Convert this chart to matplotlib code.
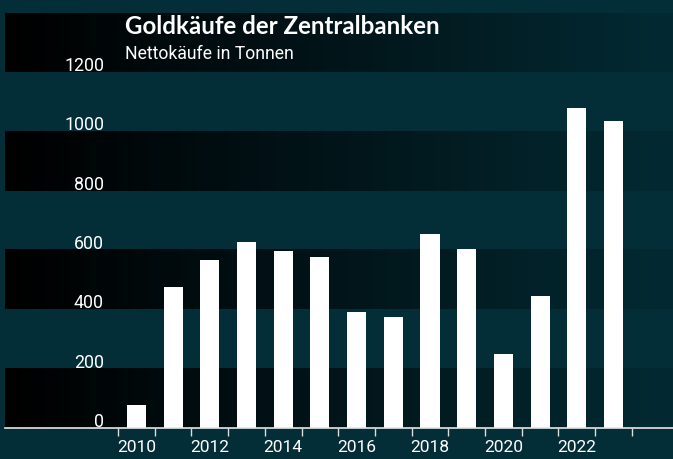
import matplotlib
matplotlib.use("Agg")
import matplotlib.pyplot as plt
import numpy as np
from matplotlib.colors import to_rgb
import matplotlib.transforms as mtransforms

years = [2010, 2011, 2012, 2013, 2014, 2015, 2016, 2017, 2018, 2019, 2020, 2021, 2022, 2023]
tonnes = [77, 476, 567, 627, 597, 577, 391, 374, 655, 604, 250, 445, 1080, 1036]
year_labels = ["2010", "2012", "2014", "2016", "2018", "2020", "2022"]
y_ticks = [0, 200, 400, 600, 800, 1000, 1200]
title = "Goldkäufe der Zentralbanken"
subtitle = "Nettokäufe in Tonnen"

TEAL = "#032d37"
DARK_END = "#032a33"
W, H = 673, 459
fig = plt.figure(figsize=(W / 100, H / 100), dpi=100)
fig.patch.set_facecolor(TEAL)

ax = fig.add_axes([5 / W, (H - 428) / H, (W - 5) / W, (428 - 13) / H])
ax.set_facecolor(TEAL)

x = np.arange(len(years))
xl, xr = -3.58, 14.62

# gradient dark bands
c0 = np.array(to_rgb("#000000"))
c1 = np.array(to_rgb(DARK_END))
t = np.linspace(0, 1, 256)[:, None]
grad = (c0 * (1 - t) + c1 * t)[None, :, :]
for y0 in [0, 400, 800, 1200]:
    ax.imshow(grad, extent=(xl, xr, y0, y0 + 200), aspect="auto", zorder=0, interpolation="bilinear")
ax.set_xlim(xl, xr)
ax.set_ylim(0, 1400)

ax.bar(x, tonnes, width=0.52, color="white", zorder=2)

for s in ["top", "left", "right"]:
    ax.spines[s].set_visible(False)
ax.spines["bottom"].set_color("#e6e6e6")
ax.spines["bottom"].set_linewidth(1.2)
ax.spines["bottom"].set_zorder(3)

ax.set_xticks(np.arange(len(years) + 1) - 0.5)
ax.set_xticklabels([])
ax.tick_params(axis="x", which="major", length=6, width=1.0, color="#dddddd", direction="out")
label_pos = [x[years.index(int(l))] for l in year_labels]
ax.set_xticks(label_pos, minor=True)
ax.set_xticklabels(year_labels, minor=True)
ax.tick_params(axis="x", which="minor", length=0, pad=9, labelsize=12.5, labelcolor="white")
for lab in ax.get_xticklabels(minor=True):
    lab.set_fontfamily("Roboto")
ax.set_yticks([])

trans = mtransforms.blended_transform_factory(ax.transAxes, ax.transData)
for v in y_ticks:
    ax.text((104 - 5) / (W - 5), v + 4, str(v), transform=trans, ha="right", va="baseline",
            color="white", fontsize=12.8, fontfamily="Roboto", zorder=4)

fig.text(125 / W, 1 - 34 / H, title, color="white", fontsize=17.4, fontweight="bold",
         fontfamily="Lato", ha="left", va="baseline")
fig.text(125 / W, 1 - 59 / H, subtitle, color="white", fontsize=12.7, fontfamily="Roboto",
         ha="left", va="baseline")

fig.savefig("out.png", dpi=100, facecolor=TEAL)
